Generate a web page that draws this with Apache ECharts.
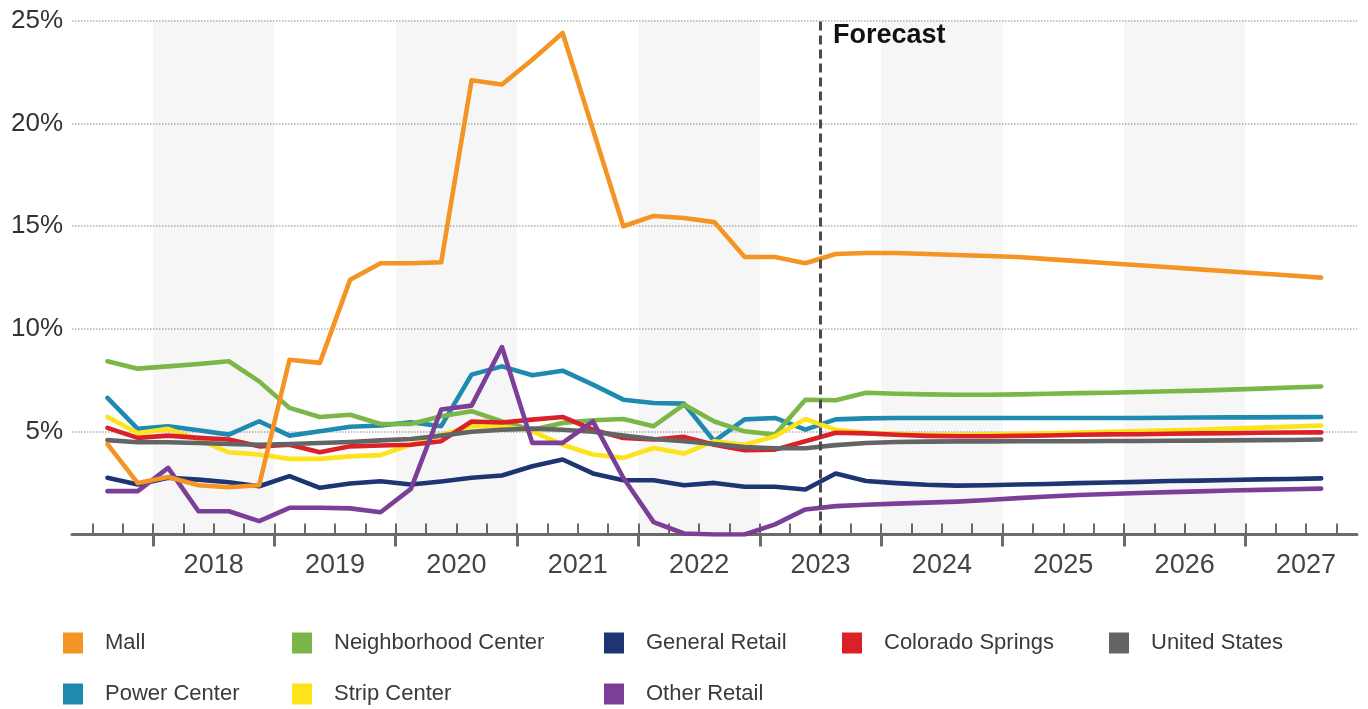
<!DOCTYPE html>
<html>
<head>
<meta charset="utf-8">
<script src="https://cdn.jsdelivr.net/npm/echarts@6/dist/echarts.min.js"></script>
<style>
html,body{margin:0;padding:0;background:#fff;}
#c{width:1368px;height:709px;}
</style>
</head>
<body>
<div id="c"></div>
<script>
// ---------- data ----------
const quarters = ['2017Q3','2017Q4',
  '2018Q1','2018Q2','2018Q3','2018Q4',
  '2019Q1','2019Q2','2019Q3','2019Q4',
  '2020Q1','2020Q2','2020Q3','2020Q4',
  '2021Q1','2021Q2','2021Q3','2021Q4',
  '2022Q1','2022Q2','2022Q3','2022Q4',
  '2023Q1','2023Q2','2023Q3','2023Q4',
  '2024Q1','2024Q2','2024Q3','2024Q4',
  '2025Q1','2025Q2','2025Q3','2025Q4',
  '2026Q1','2026Q2','2026Q3','2026Q4',
  '2027Q1','2027Q2','2027Q3'];
const yearLabels = ['2018','2019','2020','2021','2022','2023','2024','2025','2026','2027'];
const shadedYears = ['2018','2020','2022','2024','2026'];
const forecastStart = '2023Q3';
const forecastLabel = 'Forecast';

const mall = [4.4,2.5,2.8,2.4,2.3,2.4,8.5,8.35,12.4,13.2,
  13.2,13.25,22.1,21.9,23.1,24.4,19.7,15.0,15.5,15.4,
  15.2,13.5,13.5,13.2,13.65,13.7,13.7,13.65,13.6,13.55,
  13.5,13.4,13.3,13.2,13.1,13.0,12.9,12.8,12.7,12.6,12.5];
const neighborhood = [8.43,8.07,8.18,8.3,8.43,7.45,6.16,5.72,5.83,5.38,
  5.38,5.75,6.0,5.5,5.1,5.43,5.56,5.62,5.27,6.32,
  5.5,5.02,4.86,6.56,6.53,6.9,6.85,6.82,6.8,6.8,
  6.82,6.85,6.88,6.9,6.93,6.97,7.0,7.05,7.1,7.15,7.2];
const generalRetail = [2.76,2.43,2.76,2.67,2.54,2.35,2.84,2.27,2.48,2.59,
  2.43,2.58,2.76,2.87,3.32,3.65,2.97,2.64,2.64,2.4,
  2.51,2.32,2.32,2.19,2.97,2.6,2.5,2.42,2.38,2.4,
  2.43,2.46,2.5,2.53,2.56,2.6,2.62,2.65,2.68,2.7,2.73];
const coloradoSprings = [5.19,4.7,4.81,4.7,4.62,4.29,4.37,4.0,4.29,4.33,
  4.37,4.54,5.5,5.45,5.59,5.72,5.1,4.7,4.62,4.75,
  4.37,4.1,4.13,4.54,4.95,4.92,4.85,4.8,4.78,4.78,
  4.8,4.82,4.85,4.87,4.88,4.9,4.92,4.93,4.95,4.96,4.97];
const unitedStates = [4.59,4.49,4.49,4.45,4.4,4.37,4.4,4.45,4.5,4.58,
  4.65,4.81,5.0,5.1,5.15,5.1,5.0,4.81,4.65,4.54,
  4.4,4.25,4.2,4.2,4.35,4.45,4.5,4.52,4.53,4.53,
  4.54,4.54,4.54,4.55,4.55,4.56,4.57,4.58,4.59,4.6,4.62];
const powerCenter = [6.65,5.14,5.27,5.07,4.86,5.51,4.81,5.02,5.24,5.3,
  5.46,5.27,7.78,8.18,7.75,7.97,7.29,6.56,6.4,6.37,
  4.54,5.6,5.67,5.1,5.6,5.65,5.67,5.67,5.67,5.67,
  5.67,5.67,5.67,5.67,5.67,5.68,5.69,5.7,5.7,5.71,5.72];
const stripCenter = [5.72,4.94,5.14,4.62,4.0,3.89,3.68,3.68,3.8,3.86,
  4.37,4.84,5.27,5.27,5.02,4.37,3.89,3.73,4.21,3.94,
  4.54,4.37,4.78,5.62,5.1,4.95,4.9,4.85,4.85,4.87,
  4.9,4.93,4.96,5.0,5.03,5.07,5.1,5.15,5.2,5.25,5.3];
const otherRetail = [2.11,2.11,3.24,1.13,1.13,0.65,1.3,1.3,1.27,1.08,
  2.22,6.08,6.27,9.12,4.46,4.46,5.5,2.76,0.6,0.05,
  0.0,0.0,0.49,1.22,1.38,1.45,1.5,1.55,1.6,1.68,
  1.77,1.85,1.92,1.97,2.02,2.06,2.1,2.14,2.17,2.2,2.23];

// ---------- helpers ----------
const FONT = 'Liberation Sans, Arial, Helvetica, sans-serif';
function qStart(label){ return Number(label.slice(0,4)) + (Number(label.slice(5)) - 1) / 4; }
function qMid(label){ return qStart(label) + 0.125; }
const xs = quarters.map(qMid);
function pairs(arr){ return arr.map((v,i)=>[xs[i], v]); }

const minorTicks = quarters.map(qStart).concat([qStart(quarters[quarters.length-1]) + 0.25]);
const majorTicks = yearLabels.map(Number);
const labelVals = yearLabels.map(y => Number(y) + 0.5);
const X_MIN = 2017.333, X_MAX = 2027.92;

const seriesDefs = [
  {name:'Power Center', data: powerCenter, color:'#1f8ab0'},
  {name:'Neighborhood Center', data: neighborhood, color:'#7ab648'},
  {name:'Strip Center', data: stripCenter, color:'#fde31c'},
  {name:'General Retail', data: generalRetail, color:'#1d3673'},
  {name:'Colorado Springs', data: coloradoSprings, color:'#db2128'},
  {name:'United States', data: unitedStates, color:'#636466'},
  {name:'Other Retail', data: otherRetail, color:'#7b3f98'},
  {name:'Mall', data: mall, color:'#f39424'}
];

const legendLayout = [
  {name:'Mall', left:63, top:632},
  {name:'Neighborhood Center', left:292, top:632},
  {name:'General Retail', left:604, top:632},
  {name:'Colorado Springs', left:842, top:632},
  {name:'United States', left:1109, top:632},
  {name:'Power Center', left:63, top:683},
  {name:'Strip Center', left:292, top:683},
  {name:'Other Retail', left:604, top:683}
];

const chart = echarts.init(document.getElementById('c'), null, {renderer:'canvas'});

const series = [
  {
    type:'line', name:'_bands', data:[], z:1, silent:true,
    markArea:{
      silent:true,
      itemStyle:{color:'rgba(0,0,0,0.036)'},
      data: shadedYears.map(y => [{xAxis:Number(y), yAxis:0},{xAxis:Number(y)+1, yAxis:25}])
    }
  }
].concat(seriesDefs.map(s => ({
  type:'line', name:s.name, data:pairs(s.data),
  showSymbol:false, symbol:'none', z:2,
  itemStyle:{color:s.color},
  lineStyle:{color:s.color, width:4.6, cap:'round', join:'round'},
  emphasis:{disabled:true}
}))).concat([
  {
    type:'line', name:'_forecast', data:[], z:6, silent:true,
    markLine:{
      silent:true, symbol:'none', animation:false,
      label:{show:false},
      lineStyle:{color:'#4a4a4a', width:3, type:[9,5]},
      data:[{xAxis: qStart(forecastStart)}]
    }
  }
]);

const option = {
  animation:false,
  backgroundColor:'#fff',
  textStyle:{fontFamily:FONT},
  grid:{left:72, right:11, top:20.7, bottom:174.5, containLabel:false},
  xAxis:[
    {
      type:'value', min:X_MIN, max:X_MAX, position:'bottom',
      axisLine:{show:true, onZero:false, lineStyle:{color:'#6b6b6b', width:3}},
      axisTick:{show:true, inside:true, length:11, customValues:minorTicks, lineStyle:{color:'#6b6b6b', width:2}},
      axisLabel:{show:true, customValues:labelVals, formatter:v => String(Math.floor(v)),
        fontSize:27, color:'#444', margin:18, fontFamily:FONT},
      splitLine:{show:false}
    },
    {
      type:'value', min:X_MIN, max:X_MAX, position:'bottom',
      axisLine:{show:false, onZero:false},
      axisTick:{show:true, inside:false, length:12, customValues:majorTicks, lineStyle:{color:'#6b6b6b', width:3}},
      axisLabel:{show:false},
      splitLine:{show:false}
    }
  ],
  yAxis:{
    type:'value', min:0, max:25, interval:5,
    axisLine:{show:false}, axisTick:{show:false},
    axisLabel:{formatter:v => v === 0 ? '' : v + '%', fontSize:26, color:'#333', margin:9, fontFamily:FONT},
    splitLine:{show:true, lineStyle:{type:'dotted', color:'#b0b0b0', width:1.5}}
  },
  legend: legendLayout.map(l => ({
    data:[l.name], left:l.left, top:l.top, orient:'horizontal', padding:0,
    icon:'rect', itemWidth:20, itemHeight:21, selectedMode:false,
    textStyle:{fontSize:22, color:'#3a3a3a', fontFamily:FONT, padding:[0,0,0,17]}
  })),
  graphic:[
    {type:'text', left:833, top:22, silent:true,
     style:{text:forecastLabel, font:'bold 27px ' + FONT, fill:'#111'}}
  ],
  series: series
};
chart.setOption(option);
</script>
</body>
</html>
